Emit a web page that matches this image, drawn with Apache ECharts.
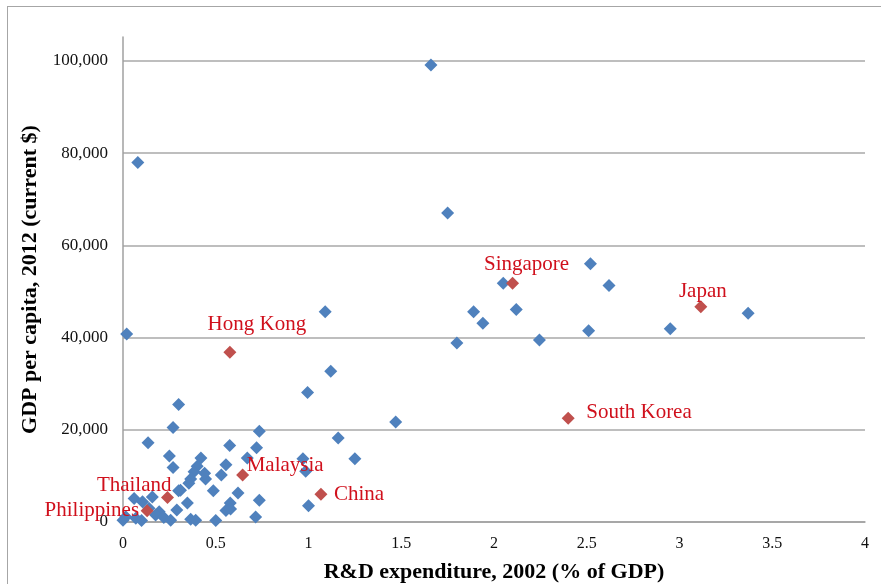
<!DOCTYPE html>
<html>
<head>
<meta charset="utf-8">
<script src="https://cdn.jsdelivr.net/npm/echarts@6/dist/echarts.min.js"></script>
<style>
  html, body { margin: 0; padding: 0; background: #fff; }
  #wrap { position: relative; width: 881px; height: 584px; }
  #frame { position: absolute; left: 7px; top: 6px; right: -2px; bottom: -2px; border-left: 1px solid #a6a6a6; border-top: 1px solid #a6a6a6; }
  #chart { position: absolute; left: 0; top: 0; width: 881px; height: 584px; }
</style>
</head>
<body>
<div id="wrap">
  <div id="frame"></div>
  <div id="chart"></div>
</div>
<script>
// R&D expenditure 2002 (% of GDP) vs GDP per capita 2012 (current $)
const otherX = [1.66, 0.08, 1.75, 2.52, 2.62, 2.05, 1.89, 1.94, 2.12, 1.80,
  2.245, 2.51, 2.95, 3.37, 0.02, 1.09, 1.12, 0.995, 0.30, 1.47,
  1.16, 1.25, 0.97, 0.985, 1.00, 0.735, 0.27, 0.135, 0.575, 0.72,
  0.25, 0.27, 0.42, 0.40, 0.555, 0.67, 0.383, 0.53, 0.365, 0.445,
  0.355, 0.30, 0.487, 0.62, 0.06, 0.105, 0.158, 0.347, 0.735, 0.578,
  0.555, 0.29, 0.195, 0.176, 0.22, 0.257, 0.365, 0.392, 0.50, 0.715,
  0.015, 0.069, 0.0, 0.31, 0.10, 0.14, 0.58, 0.44]
const otherY = [99100, 78000, 67000, 56000, 51300, 51800, 45600, 43100, 46100, 38800,
  39500, 41500, 41900, 45300, 40800, 45600, 32700, 28100, 25500, 21700,
  18200, 13700, 13700, 11000, 3500, 19700, 20500, 17200, 16600, 16100,
  14300, 11800, 13900, 12100, 12400, 13900, 10900, 10200, 9300, 9300,
  8400, 6800, 6800, 6300, 5100, 4400, 5400, 4100, 4700, 4100,
  2500, 2600, 2200, 1500, 1000, 400, 600, 400, 300, 1100,
  1150, 800, 400, 6900, 300, 3000, 2800, 10600]

const hlNames = ['Singapore', 'Japan', 'Hong Kong', 'South Korea', 'Malaysia', 'China', 'Thailand', 'Philippines']
const hlX = [2.10, 3.115, 0.576, 2.40, 0.645, 1.067, 0.24, 0.13]
const hlY = [51800, 46700, 36800, 22500, 10200, 6000, 5300, 2450]

const yTicks = [0, 20000, 40000, 60000, 80000, 100000]

// label placement for the named countries
const labelPos = {
  'Singapore': { align: 'center', offset: [14, -19] },
  'Japan': { align: 'center', offset: [2, -15] },
  'Hong Kong': { align: 'center', offset: [27, -28] },
  'South Korea': { align: 'left', offset: [18, -6] },
  'Malaysia': { align: 'left', offset: [4, -9] },
  'China': { align: 'left', offset: [13, 0] },
  'Thailand': { align: 'right', offset: [4, -12] },
  'Philippines': { align: 'right', offset: [-8, 0] }
}

const serif = "'Liberation Serif', 'DejaVu Serif', serif"

const chart = echarts.init(document.getElementById('chart'))

let blue = otherX.map((x, i) => [x, otherY[i]])
let red = hlX.map((x, i) => {
  let p = labelPos[hlNames[i]]
  return {
    name: hlNames[i],
    value: [x, hlY[i]],
    label: {
      show: true,
      position: 'inside',
      formatter: '{b}',
      align: p.align,
      verticalAlign: 'middle',
      offset: p.offset
    }
  }
})

let option = {
  animation: false,
  grid: { left: 123, right: 16, top: 37, bottom: 62, outerBoundsMode: 'none' },
  xAxis: {
    type: 'value',
    min: 0,
    max: 4,
    interval: 0.5,
    name: 'R&D expenditure, 2002 (% of GDP)',
    nameLocation: 'middle',
    nameGap: 39,
    nameTextStyle: { fontFamily: serif, fontWeight: 'bold', fontSize: 22, color: '#000' },
    axisLine: { show: true, lineStyle: { color: '#a0a0a0', width: 1.5 } },
    axisTick: { show: false },
    splitLine: { show: false },
    axisLabel: { margin: 14, fontFamily: serif, fontSize: 16, color: '#111' }
  },
  yAxis: {
    type: 'value',
    min: 0,
    max: 105200,
    interval: 20000,
    name: 'GDP per capita, 2012 (current $)',
    nameLocation: 'middle',
    nameGap: 82,
    nameTextStyle: { fontFamily: serif, fontWeight: 'bold', fontSize: 22, color: '#000' },
    axisLine: { show: true, lineStyle: { color: '#a0a0a0', width: 1.5 } },
    axisTick: { show: false },
    splitLine: {
      show: true,
      lineStyle: {
        color: ['#a8a8a8', '#a8a8a8', '#a8a8a8', '#a8a8a8', '#a8a8a8', '#a8a8a8', 'rgba(0,0,0,0)'],
        width: 1.5
      }
    },
    axisLabel: {
      margin: 15,
      fontFamily: serif,
      fontSize: 17,
      color: '#111',
      formatter: function (v) {
        return yTicks.indexOf(v) >= 0 ? v.toLocaleString('en-US') : ''
      }
    }
  },
  series: [{
    type: 'scatter',
    symbol: 'diamond',
    symbolSize: 13,
    itemStyle: { color: '#4f81bd', opacity: 1 },
    data: blue,
    z: 2
  }, {
    type: 'scatter',
    symbol: 'diamond',
    symbolSize: 13,
    itemStyle: { color: '#c0504d', opacity: 1 },
    label: { fontFamily: serif, fontSize: 21, color: '#d0101c' },
    data: red,
    z: 3
  }]
}
chart.setOption(option)
</script>
</body>
</html>
